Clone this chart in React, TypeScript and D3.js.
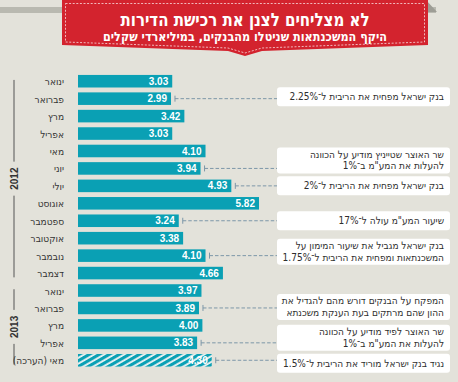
import React from 'react';
import * as d3 from 'd3';

const months = ['ינואר','פברואר','מרץ','אפריל','מאי','יוני','יולי','אוגוסט','ספטמבר','אוקטובר','נובמבר','דצמבר','ינואר','פברואר','מרץ','אפריל','מאי (הערכה)'];
const values = [3.03,2.99,3.42,3.03,4.10,3.94,4.93,5.82,3.24,3.38,4.10,4.66,3.97,3.89,4.00,3.83,4.30];
const estimated = [false,false,false,false,false,false,false,false,false,false,false,false,false,false,false,false,true];
const yearLabels = ['2012','2013'];
const yearFrom = [0,12];
const yearTo = [11,16];

const title = 'לא מצליחים לצנן את רכישת הדירות';
const subtitle = 'היקף המשכנתאות שניטלו מהבנקים, במיליארדי שקלים';

const annotRows = [1,5,6,8,10,13,15,16];
const annotTexts = [
  ['בנק ישראל מפחית את הריבית ל־2.25%'],
  ['שר האוצר שטייניץ מודיע על הכוונה','להעלות את המע"מ ב־1%'],
  ['בנק ישראל מפחית את הריבית ל־2%'],
  ['שיעור המע"מ עולה ל־17%'],
  ['בנק ישראל מגביל את שיעור המימון על','המשכנתאות ומפחית את הריבית ל־1.75%'],
  ['המפקח על הבנקים דורש מהם להגדיל את','ההון שהם מרתקים בעת הענקת משכנתא'],
  ['שר האוצר לפיד מודיע על הכוונה','להעלות את המע"מ ב־1%'],
  ['נגיד בנק ישראל מוריד את הריבית ל־1.5%'],
];
// layout: vertical shift of each box relative to its connector line
const annotShift = [-2,-8,0,0,-4,-1,-5,3];

const W = 458, H = 382;
const BG = '#e3e2da';
const TEAL = '#0aa0b4';
const RED = '#d3232e';
const FONT = '"Liberation Sans", Arial, sans-serif';
const HEB = '"DejaVu Sans Condensed", "DejaVu Sans", sans-serif';

export default function App() {
  const idx = months.map((_, i) => i);
  const y = d3.scaleBand<number>().domain(idx).range([72.5, 369]).paddingInner(0.28).paddingOuter(0.14);
  const x = d3.scaleLinear().domain([0, 6]).range([78, 78 + 6 * 31.1]);
  const bw = y.bandwidth();
  const boxX0 = 277, boxX1 = 450;

  return (
    <div style={{ position: 'absolute', left: 0, top: 0 }}>
      <svg width={W} height={H} style={{ display: 'block', fontFamily: FONT }}>
        <defs>
          <pattern id="hatch" patternUnits="userSpaceOnUse" width="5" height="5" patternTransform="rotate(-30)">
            <rect width="5" height="5" fill="#f2f6f5" />
            <rect width="5" height="3.2" fill={TEAL} />
          </pattern>
        </defs>
        <rect width={W} height={H} fill={BG} />
        {/* top strip */}
        <rect x={0} y={7} width={436} height={6} fill="#b9b9b0" />
        <polygon points="426,0 437,12 426,12" fill="#9d9d95" />
        {/* banner */}
        <polygon points="62,0 428,0 428,45 262,51 245,56 228,51 62,45" fill={RED} />
        <polygon points="65.5,3.5 424.5,3.5 424.5,42 262,48 245,53 228,48 65.5,42" fill="none" stroke="#fff" strokeWidth={0.8} strokeDasharray="2,1.6" opacity={0.85} />
        <text x={245} y={26} textAnchor="middle" direction="rtl" fill="#fff" fontSize={18} fontWeight="bold" fontFamily={HEB} textLength={249} lengthAdjust="spacingAndGlyphs">{title}</text>
        <text x={245} y={40.5} textAnchor="middle" direction="rtl" fill="#fff" fontSize={12.5} fontWeight="bold" fontFamily={HEB} textLength={284} lengthAdjust="spacingAndGlyphs">{subtitle}</text>

        {/* year brackets */}
        {yearLabels.map((lab, i) => {
          const s = (y(yearFrom[i]) as number) + 5;
          const e = (y(yearTo[i]) as number) + bw - 2;
          const m = (s + e) / 2;
          return (
            <g key={lab}>
              <line x1={14} x2={14} y1={s} y2={m - 17} stroke="#555" strokeWidth={1} />
              <line x1={14} x2={14} y1={m + 17} y2={e} stroke="#555" strokeWidth={1} />
              <text transform={`translate(17.5,${m}) rotate(-90)`} textAnchor="middle" fontSize={10} fontWeight="bold" fill="#333">{lab}</text>
            </g>
          );
        })}

        {/* month labels */}
        {months.map((m, i) => (
          <text key={'m' + i} x={64} y={(y(i) as number) + bw / 2 + 4} direction="rtl" textAnchor="start" fontSize={10} fontFamily={HEB} fill="#333">{m}</text>
        ))}

        {/* bars */}
        {values.map((v, i) => (
          <g key={'b' + i}>
            <rect x={x(0)} y={y(i)} width={x(v) - x(0)} height={bw} fill={estimated[i] ? 'url(#hatch)' : TEAL} />
            <text x={x(v) - 4} y={(y(i) as number) + bw / 2 + 3.6} textAnchor="end" fontSize={10} fontWeight="bold" fill="#fff">{v.toFixed(2)}</text>
          </g>
        ))}

        {/* annotations */}
        {annotRows.map((r, k) => {
          const ly = (y(r) as number) + bw / 2;
          const bx = x(values[r]) + 4;
          const lines = annotTexts[k];
          const h = lines.length === 1 ? 19 : 26;
          const cy = ly + annotShift[k];
          const top = cy - h / 2;
          return (
            <g key={'a' + k}>
              <line x1={bx} x2={bx} y1={ly - 3} y2={ly + 3} stroke="#7d97a8" strokeWidth={1} />
              <line x1={bx} x2={boxX0} y1={ly} y2={ly} stroke="#7d97a8" strokeWidth={1} strokeDasharray="3.5,2" />
              <rect x={boxX0} y={top} width={boxX1 - boxX0} height={h} rx={3} fill="#fff" />
              {lines.map((t, j) => (
                <text key={j} x={444} y={lines.length === 1 ? cy + 3.5 : top + 10.5 + j * 11.5} direction="rtl" textAnchor="start" fontSize={10} fontFamily={HEB} fill="#2e2e2e">{t}</text>
              ))}
            </g>
          );
        })}
      </svg>
    </div>
  );
}
